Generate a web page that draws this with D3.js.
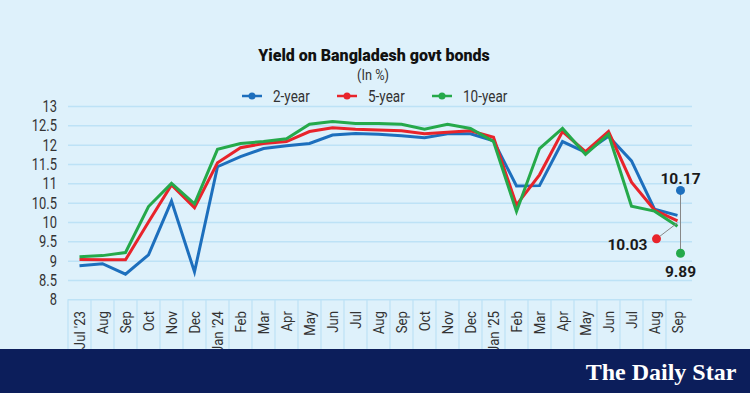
<!DOCTYPE html>
<html>
<head>
<meta charset="utf-8">
<script src="https://cdn.jsdelivr.net/npm/d3@7"></script>
<style>
  body { margin: 0; background: #def1fb; }
  svg { display: block; }
  .narrow { font-family: "Roboto", sans-serif; }
</style>
</head>
<body>
<div id="chart"></div>
<script>
// chart data
var months = ["2023-07","2023-08","2023-09","2023-10","2023-11","2023-12",
  "2024-01","2024-02","2024-03","2024-04","2024-05","2024-06","2024-07","2024-08","2024-09","2024-10","2024-11","2024-12",
  "2025-01","2025-02","2025-03","2025-04","2025-05","2025-06","2025-07","2025-08","2025-09"];
var monthLabels = ["Jul '23","Aug","Sep","Oct","Nov","Dec",
  "Jan '24","Feb","Mar","Apr","May","Jun","Jul","Aug","Sep","Oct","Nov","Dec",
  "Jan '25","Feb","Mar","Apr","May","Jun","Jul","Aug","Sep"];
var yTicks = [8, 8.5, 9, 9.5, 10, 10.5, 11, 11.5, 12, 12.5, 13];

var twoYear = [8.87, 8.92, 8.65, 9.15, 10.54, 8.71,
  11.43, 11.69, 11.90, 11.97, 12.03, 12.25, 12.29, 12.27, 12.23, 12.18, 12.28, 12.28,
  12.10, 10.93, 10.94, 12.08, 11.80, 12.22, 11.58, 10.33, 10.17];
var fiveYear = [9.03, 9.02, 9.02, 10.00, 10.96, 10.37,
  11.53, 11.92, 12.03, 12.08, 12.34, 12.44, 12.40, 12.38, 12.36, 12.28, 12.32, 12.36,
  12.19, 10.44, 11.22, 12.34, 11.82, 12.34, 11.03, 10.31, 10.03];
var tenYear = [9.10, 9.13, 9.21, 10.40, 11.00, 10.47,
  11.88, 12.03, 12.08, 12.15, 12.53, 12.60, 12.55, 12.55, 12.53, 12.40, 12.53, 12.42,
  12.08, 10.27, 11.90, 12.42, 11.75, 12.27, 10.41, 10.28, 9.89];

var seriesNames = ["2-year", "5-year", "10-year"];
var seriesColors = ["#1d6fbd", "#e8242b", "#25a94a"];
var seriesValues = [twoYear, fiveYear, tenYear];

var svgWidth = 750;
var svgHeight = 393;

var svg = d3.select("#chart")
  .append("svg")
  .attr("width", svgWidth)
  .attr("height", svgHeight);

svg.append("rect")
  .attr("width", svgWidth)
  .attr("height", svgHeight)
  .attr("fill", "#def1fb");

// scales
var x = d3.scaleBand()
  .domain(months)
  .range([68, 689])
  .padding(0);

var y = d3.scaleLinear()
  .domain([8, 13])
  .range([299.3, 106]);

// gridlines
svg.append("g")
  .attr("transform", "translate(68,0)")
  .call(d3.axisLeft(y).tickValues(yTicks).tickSize(-624).tickFormat(""))
  .call(g => g.select(".domain").remove())
  .call(g => g.selectAll("line").attr("stroke", "#bde2f6").attr("stroke-width", 1.5));

// y labels (squeezed to look like the condensed face)
svg.append("g")
  .attr("transform", "translate(57,0)")
  .call(d3.axisLeft(y).tickValues(yTicks).tickSize(0).tickPadding(0).tickFormat(d3.format("")))
  .call(g => g.select(".domain").remove())
  .call(g => g.selectAll("text")
    .attr("class", "narrow")
    .attr("font-size", 17)
    .attr("fill", "#333")
    .attr("x", 0)
    .attr("transform", "scale(0.76,1)"));

// x separators
svg.append("g")
  .selectAll("line")
  .data(months)
  .enter()
  .append("line")
  .attr("x1", d => x(d))
  .attr("x2", d => x(d))
  .attr("y1", y(8))
  .attr("y2", 349)
  .attr("stroke", "#bde2f6")
  .attr("stroke-width", 1.2);

// x labels
var xAxis = svg.append("g")
  .attr("transform", "translate(0,311)")
  .call(d3.axisBottom(x).tickSize(0).tickPadding(0).tickFormat((d, i) => monthLabels[i]));
xAxis.select(".domain").remove();
xAxis.selectAll("text")
  .attr("class", "narrow")
  .attr("font-size", 15)
  .attr("fill", "#333")
  .attr("transform", "rotate(-90) scale(0.88,1)")
  .attr("text-anchor", "end")
  .attr("x", 0)
  .attr("y", 0)
  .attr("dy", "0.35em");

// lines
var line = d3.line()
  .x((d, i) => x(months[i]) + x.bandwidth() / 2)
  .y(d => y(d));

svg.append("g")
  .selectAll("path")
  .data(seriesValues)
  .enter()
  .append("path")
  .attr("d", d => line(d))
  .attr("fill", "none")
  .attr("stroke", (d, i) => seriesColors[i])
  .attr("stroke-width", 3)
  .attr("stroke-linejoin", "miter");

// end annotations
var last = months.length - 1;
var endX = x(months[last]) + x.bandwidth() / 2;
var annot = [
  {i: 0, dx: 3, dy: -25, lx: 0, ly: -12, anchor: "middle"},
  {i: 1, dx: -21, dy: 18, lx: -9, ly: 6, anchor: "end"},
  {i: 2, dx: 3, dy: 27, lx: 0, ly: 18, anchor: "middle"}
];
var annotG = svg.append("g");
annotG.append("line")
  .attr("x1", endX + 3).attr("x2", endX + 3)
  .attr("y1", y(twoYear[last]) - 25)
  .attr("y2", y(tenYear[last]) + 27)
  .attr("stroke", "#888").attr("stroke-width", 1);
annotG.append("line")
  .attr("x1", endX - 21).attr("x2", endX)
  .attr("y1", y(fiveYear[last]) + 18)
  .attr("y2", y(fiveYear[last]) + 2)
  .attr("stroke", "#888").attr("stroke-width", 1);
annot.forEach(function(a) {
  var v = seriesValues[a.i][last];
  annotG.append("circle")
    .attr("cx", endX + a.dx)
    .attr("cy", y(v) + a.dy)
    .attr("r", 4.5)
    .attr("fill", seriesColors[a.i]);
  annotG.append("text")
    .attr("x", endX + a.dx + a.lx)
    .attr("y", y(v) + a.dy + a.ly)
    .attr("dy", "0.35em")
    .attr("text-anchor", a.anchor)
    .attr("font-family", "Roboto, sans-serif")
    .attr("font-weight", 700)
    .attr("font-size", 15.5)
    .attr("fill", "#1a1a1a")
    .text(d3.format(".2f")(v));
});

// title
svg.append("text")
  .attr("x", 374)
  .attr("y", 61)
  .attr("text-anchor", "middle")
  .attr("font-family", "Roboto, sans-serif")
  .attr("font-weight", 900)
  .attr("font-size", 16)
  .attr("fill", "#111")
  .text("Yield on Bangladesh govt bonds");

svg.append("text")
  .attr("class", "narrow")
  .attr("transform", "translate(373,80) scale(0.85,1)")
  .attr("text-anchor", "middle")
  .attr("font-size", 15)
  .attr("fill", "#333")
  .text("(In %)");

// legend
var legendX = [242, 337, 432];
var legend = svg.append("g")
  .selectAll("g")
  .data(seriesNames)
  .enter()
  .append("g")
  .attr("transform", (d, i) => `translate(${legendX[i]}, 96)`);
legend.append("line")
  .attr("x1", 0).attr("x2", 20)
  .attr("stroke", (d, i) => seriesColors[i])
  .attr("stroke-width", 2.5);
legend.append("circle")
  .attr("cx", 10)
  .attr("r", 3.5)
  .attr("fill", (d, i) => seriesColors[i]);
legend.append("text")
  .attr("class", "narrow")
  .attr("transform", "translate(31,0) scale(0.82,1)")
  .attr("dy", "0.35em")
  .attr("font-size", 16.5)
  .attr("fill", "#333")
  .text(d => d);

// footer band
svg.append("rect")
  .attr("x", 0)
  .attr("y", 349)
  .attr("width", svgWidth)
  .attr("height", svgHeight - 349)
  .attr("fill", "#0c1e5b");

svg.append("text")
  .attr("x", 661)
  .attr("y", 380)
  .attr("text-anchor", "middle")
  .attr("font-family", "'Liberation Serif', 'DejaVu Serif', serif")
  .attr("font-weight", 700)
  .attr("font-size", 24)
  .attr("fill", "#ffffff")
  .text("The Daily Star");
</script>
</body>
</html>
